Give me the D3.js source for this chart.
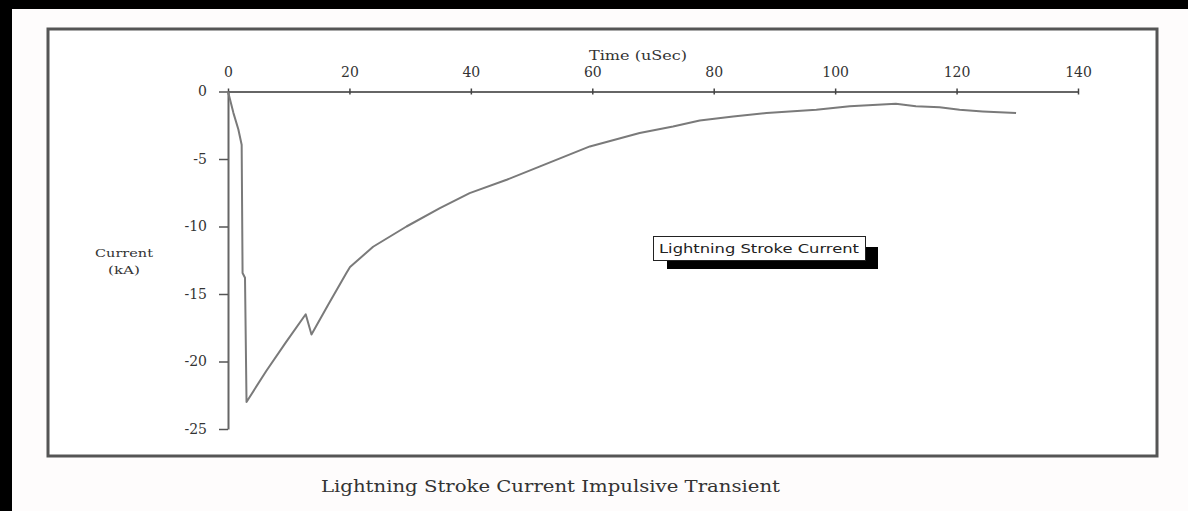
<!DOCTYPE html>
<html>
<head>
<meta charset="utf-8">
<script src="https://cdn.jsdelivr.net/npm/d3@7"></script>
<style>
  html, body { margin: 0; padding: 0; background: #000; }
  #chart { width: 1188px; height: 511px; }
</style>
</head>
<body>
<div id="chart"></div>
<script>
    // values
    const timeUs = [0, 0.9, 1.7, 2.25, 2.4, 2.8, 3.05, 6.3, 9.5, 12.8, 13.75, 16.5, 19.5, 20.1,
        23.9, 29.4, 34.9, 39.8, 45.9, 51.4, 59.6, 67.8, 73.3, 77.7, 83.2, 88.7, 96.9, 102.4,
        110, 113.3, 117.2, 120.5, 124.3, 129.8];
    const currentKA = [0, -1.6, -2.8, -3.95, -13.45, -13.8, -23.0, -20.7, -18.6, -16.5, -18.0, -15.8, -13.45, -13.0,
        -11.5, -10.0, -8.64, -7.53, -6.54, -5.55, -4.07, -3.08, -2.6, -2.15, -1.85, -1.6, -1.36, -1.1,
        -0.91, -1.1, -1.16, -1.36, -1.48, -1.6];
    const xTicks = [0, 20, 40, 60, 80, 100, 120, 140];
    const yTicks = [0, -5, -10, -15, -20, -25];

    const points = timeUs.map((t, i) => ({t: t, v: currentKA[i]}));

    const svg = d3.select("#chart")
        .append("svg")
        .attr("width", 1188)
        .attr("height", 511);

    // page backdrop: black strip top and left, white sheet
    svg.append("rect").attr("width", 1188).attr("height", 511).attr("fill", "#000");
    svg.append("rect")
        .attr("x", 12).attr("y", 9)
        .attr("width", 1176).attr("height", 502)
        .attr("fill", "#fefcfc");

    // chart frame
    svg.append("rect")
        .attr("x", 48).attr("y", 29)
        .attr("width", 1109).attr("height", 427)
        .attr("fill", "#fff")
        .attr("stroke", "#555")
        .attr("stroke-width", 3);

    const x = d3.scaleLinear().domain([0, 140]).range([228, 1078]);
    const y = d3.scaleLinear().domain([-25, 0]).range([429, 91.5]);

    const tickFont = "'DejaVu Serif', 'Liberation Serif', serif";

    // x axis along the zero line, labels on top
    const xAxis = svg.append("g")
        .attr("transform", `translate(0,${y(0)})`)
        .call(d3.axisTop(x).tickValues(xTicks).tickSizeInner(3).tickSizeOuter(0).tickPadding(12));
    xAxis.select(".domain").attr("stroke", "#666").attr("stroke-width", 2);
    xAxis.selectAll(".tick line").attr("stroke", "#444").attr("y2", 3).attr("y1", -3).attr("stroke-width", 1.5);
    xAxis.selectAll("text")
        .style("font-family", tickFont)
        .style("font-size", "14px")
        .style("fill", "#333");

    const yAxis = svg.append("g")
        .attr("transform", `translate(${x(0)},0)`)
        .call(d3.axisLeft(y).tickValues(yTicks).tickSizeInner(9).tickSizeOuter(0).tickPadding(12)
            .tickFormat(d => d === 0 ? "0" : "-" + Math.abs(d)));
    yAxis.select(".domain").attr("stroke", "#666").attr("stroke-width", 2);
    yAxis.selectAll(".tick line").attr("stroke", "#555").attr("stroke-width", 1.5);
    yAxis.selectAll("text")
        .style("font-family", tickFont)
        .style("font-size", "14px")
        .style("fill", "#333");

    // axis titles
    svg.append("text")
        .attr("x", 638)
        .attr("y", 60)
        .attr("text-anchor", "middle")
        .attr("textLength", 98)
        .attr("lengthAdjust", "spacingAndGlyphs")
        .style("font-family", tickFont)
        .style("font-size", "12px")
        .style("fill", "#333")
        .text("Time (uSec)");

    svg.append("text")
        .attr("x", 124)
        .attr("y", 257)
        .attr("text-anchor", "middle")
        .attr("textLength", 58)
        .attr("lengthAdjust", "spacingAndGlyphs")
        .style("font-family", tickFont)
        .style("font-size", "11px")
        .style("fill", "#333")
        .text("Current");

    svg.append("text")
        .attr("x", 124)
        .attr("y", 274)
        .attr("text-anchor", "middle")
        .attr("textLength", 32)
        .attr("lengthAdjust", "spacingAndGlyphs")
        .style("font-family", tickFont)
        .style("font-size", "11px")
        .style("fill", "#333")
        .text("(kA)");

    // the stroke current curve
    const line = d3.line()
        .x(d => x(d.t))
        .y(d => y(d.v));

    svg.append("path")
        .datum(points)
        .attr("d", line)
        .attr("fill", "none")
        .attr("stroke", "#7a7a7a")
        .attr("stroke-width", 2)
        .attr("stroke-linejoin", "round");

    // legend box with drop shadow
    const legend = svg.append("g").attr("transform", "translate(653,236)");
    legend.append("rect")
        .attr("x", 14).attr("y", 11)
        .attr("width", 211).attr("height", 22)
        .attr("fill", "#000");
    legend.append("rect")
        .attr("x", 0.5).attr("y", 0.5)
        .attr("width", 212).attr("height", 24)
        .attr("fill", "#fff")
        .attr("stroke", "#222")
        .attr("stroke-width", 1);
    legend.append("text")
        .attr("x", 6)
        .attr("y", 17)
        .attr("textLength", 200)
        .attr("lengthAdjust", "spacingAndGlyphs")
        .style("font-family", "'DejaVu Sans', sans-serif")
        .style("font-size", "12px")
        .style("fill", "#222")
        .text("Lightning Stroke Current");

    // caption under the frame
    svg.append("text")
        .attr("x", 321)
        .attr("y", 492)
        .attr("textLength", 459)
        .attr("lengthAdjust", "spacingAndGlyphs")
        .style("font-family", "'DejaVu Serif', 'Liberation Serif', serif")
        .style("font-size", "16px")
        .style("fill", "#333")
        .text("Lightning Stroke Current Impulsive Transient");
</script>
</body>
</html>
